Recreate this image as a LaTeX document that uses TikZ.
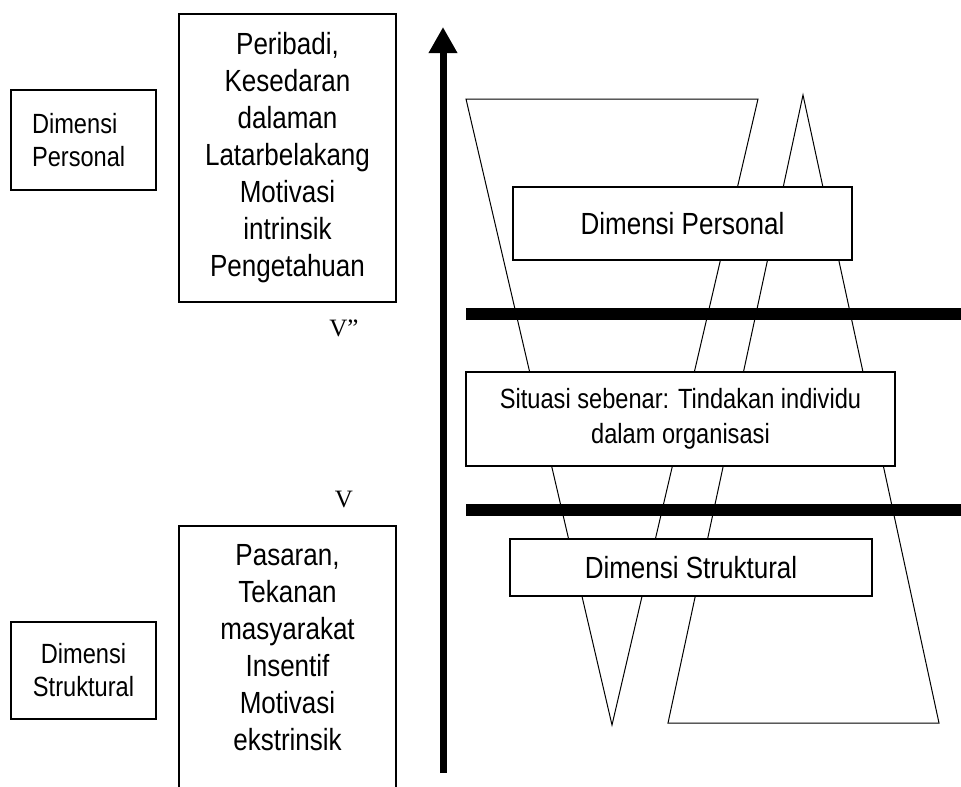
\documentclass[tikz,border=0pt]{standalone}
\usepackage{fontspec}
\setmainfont[FakeStretch=0.85]{Liberation Sans}
\newfontfamily\timesfont{Liberation Serif}
\usetikzlibrary{arrows.meta}
\tikzset{
  dimbox/.style={draw, line width=1.6pt, fill=white, align=center, inner sep=0pt},
  bigtext/.style={font=\fontsize{30.6}{37}\selectfont},
  smalltext/.style={font=\fontsize{27.8}{33}\selectfont},
  vlabel/.style={font=\timesfont\fontsize{25}{25}\selectfont, inner sep=0pt},
}
\begin{document}
\begin{tikzpicture}[x=1pt,y=-1pt]
\useasboundingbox (0,0) rectangle (961,787);
\clip (0,0) rectangle (961,787);

\draw[line width=1pt] (466,99) -- (758,99) -- (612,725) -- cycle;
\draw[line width=1pt] (803,95) -- (939,723) -- (668,723) -- cycle;

\draw[line width=12pt] (466,314) -- (961,314);
\draw[line width=12pt] (466,510) -- (961,510);

\coordinate (axisbot) at (443,773);
\coordinate (axistop) at (443,27);
\draw[line width=7pt, -{Triangle[length=26pt,width=27pt]}] (axisbot) -- (axistop);

\node[dimbox, smalltext, align=left, text width=103pt, minimum width=145pt, minimum height=100pt] (perslabel) at (83.5,140) {Dimensi\\Personal};
\node[dimbox, smalltext, minimum width=145pt, minimum height=97pt] (struklabel) at (83.5,670.5) {Dimensi\\Struktural};

\node[dimbox, bigtext, minimum width=217pt, minimum height=288pt] (peribadi) at (287.5,158)
  {Peribadi,\\Kesedaran\\dalaman\\Latarbelakang\\Motivasi\\intrinsik\\Pengetahuan};
\draw[line width=1.6pt] (179,800) |- (396,526) -- (396,800);
\node[bigtext, align=center] (pasaran) at (287.5,648)
  {Pasaran,\\Tekanan\\masyarakat\\Insentif\\Motivasi\\ekstrinsik};

\node[vlabel] (vtop) at (344,328) {V”};
\node[vlabel] (vbot) at (344,499) {V};

\node[dimbox, bigtext, minimum width=339pt, minimum height=73pt] (personal) at (682.5,223.5) {Dimensi Personal};
\node[dimbox, font=\fontsize{27.8}{35}\selectfont, minimum width=429pt, minimum height=94pt] (situasi) at (680.5,419)
  {Situasi sebenar: Tindakan individu\\dalam organisasi};
\node[dimbox, bigtext, minimum width=362pt, minimum height=57pt] (struktural) at (691,567.5) {Dimensi Struktural};
\end{tikzpicture}
\end{document}
